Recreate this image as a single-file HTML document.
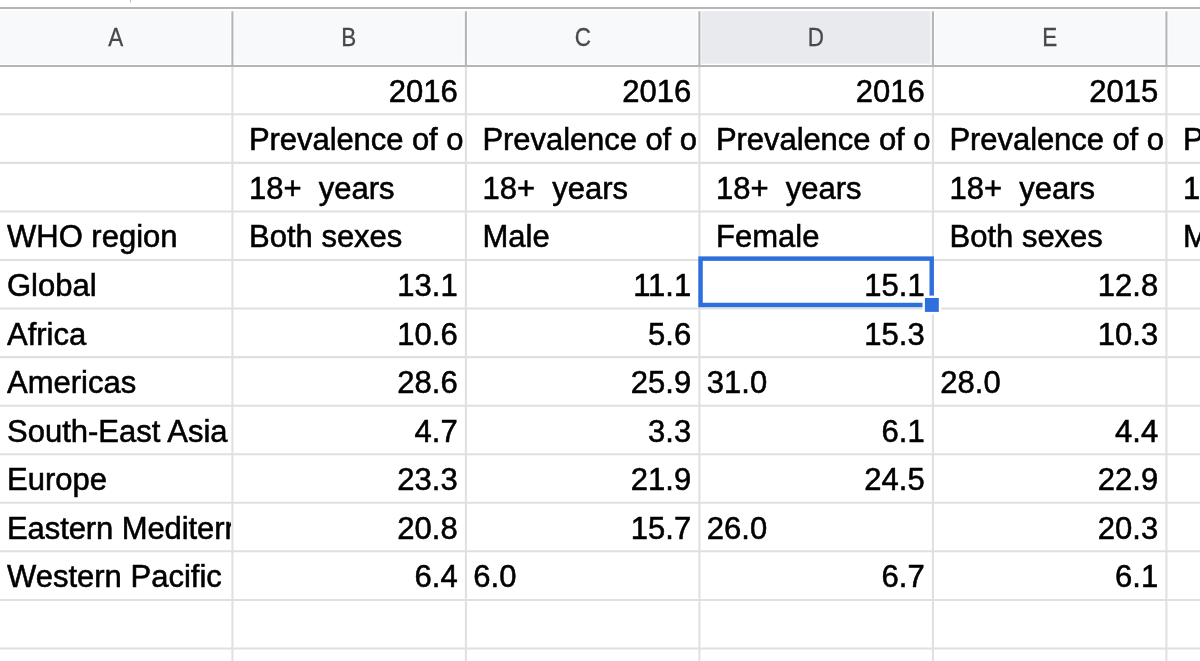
<!DOCTYPE html>
<html lang="en"><head><meta charset="utf-8"><title>Sheet</title>
<style>
html,body{margin:0;padding:0;background:#fff;}
body{width:1200px;height:661px;overflow:hidden;position:relative;font-family:"Liberation Sans",Arial,Helvetica,sans-serif;}
#s{position:absolute;left:0;top:0;width:1200px;height:661px;overflow:hidden;background:#fff;}
.ch{position:absolute;top:9px;height:56px;line-height:57.9px;text-align:center;color:#47494b;-webkit-text-stroke:0.3px #47494b;font-size:25.8px;transform:scaleX(.87);}
.c{position:absolute;height:48.56px;line-height:51.26px;font-size:31px;color:#000;white-space:pre;overflow:hidden;-webkit-text-stroke:0.55px #000;}
.r{text-align:right;}
</style></head>
<body><div id="s">
<svg id="g" width="1200" height="661" viewBox="0 0 1200 661" style="position:absolute;left:0;top:0"><rect x="0" y="11.2" width="1200" height="52.4" fill="#f8f9fa"/><rect x="699.40" y="11.2" width="233.50" height="52.4" fill="#e8eaed"/><line x1="232.15" x2="232.15" y1="9" y2="66" stroke="#fff" stroke-width="4.3"/><line x1="465.65" x2="465.65" y1="9" y2="66" stroke="#fff" stroke-width="4.3"/><line x1="699.15" x2="699.15" y1="9" y2="66" stroke="#fff" stroke-width="4.3"/><line x1="932.65" x2="932.65" y1="9" y2="66" stroke="#fff" stroke-width="4.3"/><line x1="1166.15" x2="1166.15" y1="9" y2="66" stroke="#fff" stroke-width="4.3"/><line x1="0" x2="1200" y1="114.30" y2="114.30" stroke="#e0e0e0" stroke-width="2.05"/><line x1="0" x2="1200" y1="162.86" y2="162.86" stroke="#e0e0e0" stroke-width="2.05"/><line x1="0" x2="1200" y1="211.42" y2="211.42" stroke="#e0e0e0" stroke-width="2.05"/><line x1="0" x2="1200" y1="259.98" y2="259.98" stroke="#e0e0e0" stroke-width="2.05"/><line x1="0" x2="1200" y1="308.54" y2="308.54" stroke="#e0e0e0" stroke-width="2.05"/><line x1="0" x2="1200" y1="357.10" y2="357.10" stroke="#e0e0e0" stroke-width="2.05"/><line x1="0" x2="1200" y1="405.66" y2="405.66" stroke="#e0e0e0" stroke-width="2.05"/><line x1="0" x2="1200" y1="454.22" y2="454.22" stroke="#e0e0e0" stroke-width="2.05"/><line x1="0" x2="1200" y1="502.78" y2="502.78" stroke="#e0e0e0" stroke-width="2.05"/><line x1="0" x2="1200" y1="551.34" y2="551.34" stroke="#e0e0e0" stroke-width="2.05"/><line x1="0" x2="1200" y1="599.90" y2="599.90" stroke="#e0e0e0" stroke-width="2.05"/><line x1="0" x2="1200" y1="648.46" y2="648.46" stroke="#e0e0e0" stroke-width="2.05"/><line x1="232.40" x2="232.40" y1="66" y2="661" stroke="#e0e0e0" stroke-width="2.05"/><line x1="465.90" x2="465.90" y1="66" y2="661" stroke="#e0e0e0" stroke-width="2.05"/><line x1="699.40" x2="699.40" y1="66" y2="661" stroke="#e0e0e0" stroke-width="2.05"/><line x1="932.90" x2="932.90" y1="66" y2="661" stroke="#e0e0e0" stroke-width="2.05"/><line x1="1166.40" x2="1166.40" y1="66" y2="661" stroke="#e0e0e0" stroke-width="2.05"/><line x1="0" x2="1200" y1="7.95" y2="7.95" stroke="#b4b5b7" stroke-width="2.1"/><line x1="0" x2="1200" y1="66.00" y2="66.00" stroke="#b4b5b7" stroke-width="2.1"/><line x1="232.40" x2="232.40" y1="11.3" y2="66" stroke="#b4b5b7" stroke-width="2.1"/><line x1="465.90" x2="465.90" y1="11.3" y2="66" stroke="#b4b5b7" stroke-width="2.1"/><line x1="699.40" x2="699.40" y1="11.3" y2="66" stroke="#b4b5b7" stroke-width="2.1"/><line x1="932.90" x2="932.90" y1="11.3" y2="66" stroke="#b4b5b7" stroke-width="2.1"/><line x1="1166.40" x2="1166.40" y1="11.3" y2="66" stroke="#b4b5b7" stroke-width="2.1"/><line x1="130.5" x2="130.5" y1="0" y2="2.6" stroke="#bdbdbd" stroke-width="1"/><rect x="700.55" y="258.6" width="231.15" height="46.4" fill="none" stroke="#2d6fdd" stroke-width="4.45"/><rect x="922.5" y="295.6" width="18.7" height="18.7" fill="#fff"/><rect x="924.9" y="298" width="13.9" height="13.9" fill="#2d6fdd"/></svg>
<div class="ch" style="left:-1px;width:233.4px">A</div>
<div class="ch" style="left:232.4px;width:233.49999999999997px">B</div>
<div class="ch" style="left:465.9px;width:233.5px">C</div>
<div class="ch" style="left:699.4px;width:233.5px">D</div>
<div class="ch" style="left:932.9px;width:233.5000000000001px">E</div>
<div class="c r" style="left:233.40px;top:66.00px;width:224.30px">2016</div>
<div class="c r" style="left:466.90px;top:66.00px;width:224.30px">2016</div>
<div class="c r" style="left:700.40px;top:66.00px;width:224.30px">2016</div>
<div class="c r" style="left:933.90px;top:66.00px;width:224.30px">2015</div>
<div class="c" style="left:249.00px;top:114.30px;width:215.90px;letter-spacing:-0.07px">Prevalence of o</div>
<div class="c" style="left:482.50px;top:114.30px;width:215.90px;letter-spacing:-0.07px">Prevalence of o</div>
<div class="c" style="left:716.00px;top:114.30px;width:215.90px;letter-spacing:-0.07px">Prevalence of o</div>
<div class="c" style="left:949.50px;top:114.30px;width:215.90px;letter-spacing:-0.07px">Prevalence of o</div>
<div class="c" style="left:1183.00px;top:114.30px;width:216.00px;letter-spacing:-0.07px">Prevalence</div>
<div class="c" style="left:249.00px;top:162.86px;width:215.90px">18+  years</div>
<div class="c" style="left:482.50px;top:162.86px;width:215.90px">18+  years</div>
<div class="c" style="left:716.00px;top:162.86px;width:215.90px">18+  years</div>
<div class="c" style="left:949.50px;top:162.86px;width:215.90px">18+  years</div>
<div class="c" style="left:1183.00px;top:162.86px;width:216.00px">18+  years</div>
<div class="c" style="left:7.00px;top:211.42px;width:224.40px">WHO region</div>
<div class="c" style="left:249.00px;top:211.42px;width:215.90px">Both sexes</div>
<div class="c" style="left:482.50px;top:211.42px;width:215.90px">Male</div>
<div class="c" style="left:716.00px;top:211.42px;width:215.90px">Female</div>
<div class="c" style="left:949.50px;top:211.42px;width:215.90px">Both sexes</div>
<div class="c" style="left:1183.00px;top:211.42px;width:216.00px">Male</div>
<div class="c" style="left:7.00px;top:259.98px;width:224.40px">Global</div>
<div class="c r" style="left:233.40px;top:259.98px;width:224.30px">13.1</div>
<div class="c r" style="left:466.90px;top:259.98px;width:224.30px">11.1</div>
<div class="c r" style="left:700.40px;top:259.98px;width:224.30px">15.1</div>
<div class="c r" style="left:933.90px;top:259.98px;width:224.30px">12.8</div>
<div class="c" style="left:7.00px;top:308.54px;width:224.40px">Africa</div>
<div class="c r" style="left:233.40px;top:308.54px;width:224.30px">10.6</div>
<div class="c r" style="left:466.90px;top:308.54px;width:224.30px">5.6</div>
<div class="c r" style="left:700.40px;top:308.54px;width:224.30px">15.3</div>
<div class="c r" style="left:933.90px;top:308.54px;width:224.30px">10.3</div>
<div class="c" style="left:7.00px;top:357.10px;width:224.40px">Americas</div>
<div class="c r" style="left:233.40px;top:357.10px;width:224.30px">28.6</div>
<div class="c r" style="left:466.90px;top:357.10px;width:224.30px">25.9</div>
<div class="c" style="left:706.80px;top:357.10px;width:225.10px">31.0</div>
<div class="c" style="left:940.30px;top:357.10px;width:225.10px">28.0</div>
<div class="c" style="left:7.00px;top:405.66px;width:224.40px">South-East Asia</div>
<div class="c r" style="left:233.40px;top:405.66px;width:224.30px">4.7</div>
<div class="c r" style="left:466.90px;top:405.66px;width:224.30px">3.3</div>
<div class="c r" style="left:700.40px;top:405.66px;width:224.30px">6.1</div>
<div class="c r" style="left:933.90px;top:405.66px;width:224.30px">4.4</div>
<div class="c" style="left:7.00px;top:454.22px;width:224.40px">Europe</div>
<div class="c r" style="left:233.40px;top:454.22px;width:224.30px">23.3</div>
<div class="c r" style="left:466.90px;top:454.22px;width:224.30px">21.9</div>
<div class="c r" style="left:700.40px;top:454.22px;width:224.30px">24.5</div>
<div class="c r" style="left:933.90px;top:454.22px;width:224.30px">22.9</div>
<div class="c" style="left:7.00px;top:502.78px;width:224.40px;letter-spacing:-0.09px">Eastern Mediterranean</div>
<div class="c r" style="left:233.40px;top:502.78px;width:224.30px">20.8</div>
<div class="c r" style="left:466.90px;top:502.78px;width:224.30px">15.7</div>
<div class="c" style="left:706.80px;top:502.78px;width:225.10px">26.0</div>
<div class="c r" style="left:933.90px;top:502.78px;width:224.30px">20.3</div>
<div class="c" style="left:7.00px;top:551.34px;width:224.40px">Western Pacific</div>
<div class="c r" style="left:233.40px;top:551.34px;width:224.30px">6.4</div>
<div class="c" style="left:473.30px;top:551.34px;width:225.10px">6.0</div>
<div class="c r" style="left:700.40px;top:551.34px;width:224.30px">6.7</div>
<div class="c r" style="left:933.90px;top:551.34px;width:224.30px">6.1</div>
</div></body></html>
